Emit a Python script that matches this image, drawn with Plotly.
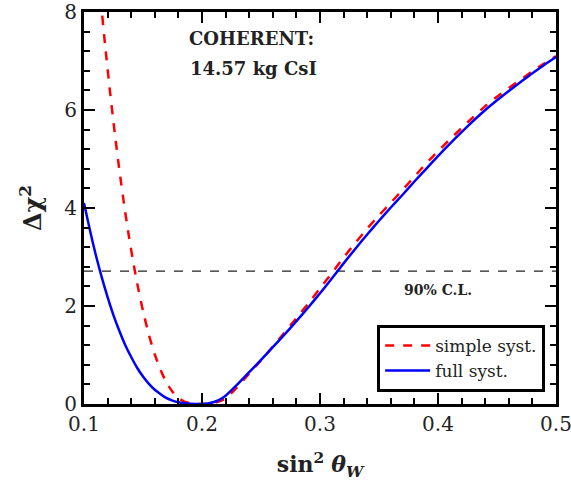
import plotly.graph_objects as go

# ---- data ----
x_simple = [0.114, 0.118, 0.122, 0.126, 0.130, 0.134, 0.138, 0.142, 0.146, 0.150,
            0.155, 0.160, 0.165, 0.170, 0.175, 0.180, 0.185, 0.190, 0.195, 0.200,
            0.210, 0.220, 0.230, 0.240, 0.250, 0.260, 0.270, 0.280, 0.290, 0.300,
            0.310, 0.320, 0.330, 0.340, 0.350, 0.360, 0.370, 0.380, 0.390, 0.400,
            0.410, 0.420, 0.430, 0.440, 0.450, 0.460, 0.470, 0.480, 0.490, 0.500]
y_simple = [8.29, 7.30, 6.39, 5.54, 4.77, 4.07, 3.43, 2.86, 2.35, 1.90,
            1.41, 1.01, 0.69, 0.43, 0.25, 0.12, 0.05, 0.015, 0.00, 0.00,
            0.02, 0.11, 0.35, 0.62, 0.89, 1.17, 1.46, 1.75, 2.05, 2.36,
            2.67, 2.99, 3.29, 3.58, 3.85, 4.11, 4.37, 4.64, 4.91, 5.16,
            5.40, 5.63, 5.86, 6.08, 6.27, 6.45, 6.62, 6.79, 6.95, 7.10]

x_full = [0.100, 0.105, 0.110, 0.115, 0.120, 0.125, 0.130, 0.135, 0.140, 0.145,
          0.150, 0.155, 0.160, 0.165, 0.170, 0.175, 0.180, 0.185, 0.190, 0.195,
          0.200, 0.205, 0.210, 0.215, 0.220, 0.230, 0.240, 0.250, 0.260, 0.270,
          0.280, 0.290, 0.300, 0.310, 0.320, 0.330, 0.340, 0.350, 0.360, 0.370,
          0.380, 0.390, 0.400, 0.410, 0.420, 0.430, 0.440, 0.450, 0.460, 0.470,
          0.480, 0.490, 0.500]
y_full = [4.10, 3.55, 3.04, 2.59, 2.18, 1.81, 1.49, 1.20, 0.96, 0.74,
          0.56, 0.41, 0.29, 0.20, 0.12, 0.07, 0.035, 0.015, 0.004, 0.00,
          0.00, 0.012, 0.04, 0.09, 0.17, 0.40, 0.65, 0.90, 1.16, 1.42,
          1.69, 1.97, 2.26, 2.56, 2.87, 3.17, 3.46, 3.74, 4.01, 4.27,
          4.54, 4.80, 5.06, 5.31, 5.55, 5.78, 6.00, 6.20, 6.39, 6.57,
          6.75, 6.92, 7.08]

cl_level = 2.71
x_ticks = [0.1, 0.2, 0.3, 0.4, 0.5]
y_ticks = [0, 2, 4, 6, 8]

FONT = "DejaVu Serif"
TXT = "#222222"

fig = go.Figure()
fig.add_trace(go.Scatter(x=x_simple, y=y_simple, mode="lines", name="simple syst.",
                         line=dict(color="#ff0000", width=2.5, dash="dash",
                                   shape="spline", smoothing=0.6)))
fig.add_trace(go.Scatter(x=x_full, y=y_full, mode="lines", name="full syst.",
                         line=dict(color="#0000ff", width=2.5,
                                   shape="spline", smoothing=0.6)))

fig.add_shape(type="line", xref="x", yref="y", x0=0.1, x1=0.5, y0=cl_level, y1=cl_level,
              line=dict(color="#222222", width=1.3, dash="dash"), layer="below")

fig.add_annotation(x=0.242, y=7.45, xref="x", yref="y", text="<b>COHERENT:</b>",
                   showarrow=False, font=dict(family=FONT, size=18, color=TXT))
fig.add_annotation(x=0.244, y=6.85, xref="x", yref="y", text="<b>14.57 kg CsI</b>",
                   showarrow=False, font=dict(family=FONT, size=18, color=TXT))
fig.add_annotation(x=0.4, y=2.33, xref="x", yref="y", text="<b>90% C.L.</b>",
                   showarrow=False, font=dict(family=FONT, size=14, color=TXT))

axis_common = dict(showline=True, linecolor="black", linewidth=3, mirror="ticks",
                   ticks="inside", tickcolor="black", tickwidth=2, ticklen=11,
                   showgrid=False, zeroline=False, automargin=False,
                   ticklabeloverflow="allow",
                   tickfont=dict(family=FONT, size=20, color=TXT))

fig.update_xaxes(range=[0.1, 0.5], tickvals=x_ticks, ticktext=[f"{v:.1f}" for v in x_ticks],
                 minor=dict(dtick=0.02, ticks="inside", ticklen=6, tickwidth=2, tickcolor="black"),
                 title=dict(text="<b>sin<sup>2</sup></b> <b><i>θ<sub>W</sub></i></b>",
                            font=dict(family=FONT, size=22, color=TXT), standoff=22),
                 **axis_common)
fig.update_yaxes(range=[0, 8], tickvals=y_ticks, ticktext=[str(v) for v in y_ticks],
                 minor=dict(dtick=0.4, ticks="inside", ticklen=6, tickwidth=2, tickcolor="black"),
                 title=dict(text="<b>Δχ<sup>2</sup></b>",
                            font=dict(family=FONT, size=24, color=TXT), standoff=16),
                 **axis_common)

fig.update_layout(
    width=571, height=485,
    margin=dict(l=84, r=15, t=12, b=81),
    plot_bgcolor="white", paper_bgcolor="white",
    showlegend=True,
    legend=dict(x=0.977, y=0.031, xanchor="right", yanchor="bottom",
                bordercolor="black", borderwidth=3, bgcolor="white",
                font=dict(family=FONT, size=17, color=TXT),
                tracegroupgap=2, itemwidth=45),
)

fig.write_html("out.html")
